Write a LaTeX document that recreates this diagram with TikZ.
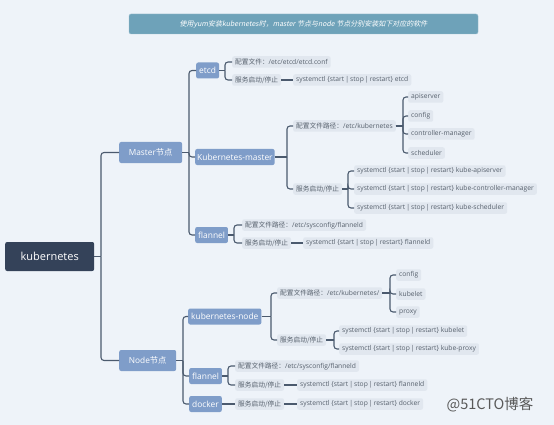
\documentclass[tikz,border=0pt]{standalone}
\usepackage{fontspec}
\setmainfont{Open Sans}
\newfontfamily\zh{Noto Sans CJK SC}
\newfontfamily\zhit[FakeSlant=0.2]{Noto Sans CJK SC}
\definecolor{bgc}{HTML}{EEF3F9}
\definecolor{rootc}{HTML}{344259}
\definecolor{midc}{HTML}{7F9DC9}
\definecolor{leafc}{HTML}{E1E7EF}
\definecolor{linec}{HTML}{4B5A6E}
\definecolor{leaft}{HTML}{57616D}
\definecolor{titlec}{HTML}{6EA2B9}
\newcommand\br[3]{\draw[link] (#1.east) -- (#3 |- #1.east); \draw[link,rounded corners=3pt] (#3 |- #1.east) |- (#2.west);}
\newcommand\st[2]{\draw[link] (#1.east) -- (#1.east -| #2.west);}
\newcommand\cmd[1]{systemctl \{start\,|\,stop\,|\,restart\} #1}
\begin{document}
\begin{tikzpicture}[x=1pt,y=-1pt,
  link/.style={draw=linec,line width=1.1pt},
  rootbox/.style={fill=rootc,text=white,rounded corners=2pt,font=\fontsize{11}{12}\selectfont,minimum width=89pt,minimum height=29pt,inner sep=2pt,anchor=west},
  mainbox/.style={fill=midc,text=white,rounded corners=2pt,font=\fontsize{8.3}{9}\selectfont,minimum height=21pt,inner xsep=5pt,anchor=west},
  subbox/.style={fill=midc,text=white,rounded corners=2pt,font=\fontsize{8.4}{9}\selectfont,minimum height=16pt,inner xsep=3pt,inner ysep=1pt,anchor=west},
  leaf/.style={fill=leafc,text=leaft,rounded corners=2pt,font=\fontsize{6.7}{7.5}\selectfont,minimum height=11.5pt,inner xsep=3pt,inner ysep=1pt,anchor=west}]
\useasboundingbox[fill=bgc] (0,0) rectangle (554,425);
% title
\node[fill=titlec,draw=titlec!70!white,rounded corners=2pt,minimum width=349pt,minimum height=20pt,text=white,font=\zhit\fontsize{7}{8}\selectfont] (title) at (303.5,24) {使用yum安装kubernetes时，master 节点与node 节点分别安装如下对应的软件};
% trunks
\coordinate (tR) at (101,0);
\coordinate (tM) at (189,0);
\coordinate (tN) at (183,0);
\coordinate (tE) at (225,0);
\coordinate (tK) at (287,0);
\coordinate (tKc) at (403,0);
\coordinate (tKs) at (348,0);
\coordinate (tF) at (234,0);
\coordinate (tKN) at (271,0);
\coordinate (tKNc) at (390,0);
\coordinate (tKNs) at (334,0);
\coordinate (tFN) at (228,0);
% nodes
\node[rootbox] (root) at (5,256.5) {kubernetes};
\node[mainbox,minimum width=63pt] (master) at (119,152.5) {Master{\zh 节点}};
\node[mainbox,minimum width=57pt] (nodeN) at (119,360.5) {Node{\zh 节点}};
\node[subbox] (etcd) at (196,70.5) {etcd};
\node[subbox,inner xsep=2pt] (kmaster) at (195,157) {Kubernetes-master};
\node[subbox] (flannelM) at (195,235) {flannel};
\node[subbox] (kn) at (188,316.5) {kubernetes-node};
\node[subbox] (flannelN) at (189,376) {flannel};
\node[subbox] (docker) at (189,404) {docker};
% etcd
\node[leaf] (ecfg) at (232,62) {{\zh 配置文件：}/etc/etcd/etcd.conf};
\node[leaf] (esvc) at (232,80) {{\zh 服务启动/停止}};
\node[leaf] (ecmd) at (293,80) {\cmd{etcd}};
% kubernetes-master
\node[leaf] (kcfg) at (293,126) {{\zh 配置文件路径：}/etc/kubernetes};
\node[leaf] (ksvc) at (293,189) {{\zh 服务启动/停止}};
\node[leaf] (kc1) at (408,97) {apiserver};
\node[leaf] (kc2) at (408,116) {config};
\node[leaf] (kc3) at (408,134) {controller-manager};
\node[leaf] (kc4) at (408,153) {scheduler};
\node[leaf] (ks1) at (354,171) {\cmd{kube-apiserver}};
\node[leaf] (ks2) at (354,189) {\cmd{kube-controller-manager}};
\node[leaf] (ks3) at (354,208) {\cmd{kube-scheduler}};
% flannel master
\node[leaf] (fcfg) at (242,225) {{\zh 配置文件路径：}/etc/sysconfig/flanneld};
\node[leaf] (fsvc) at (242,243) {{\zh 服务启动/停止}};
\node[leaf] (fcmd) at (303,243) {\cmd{flanneld}};
% kubernetes-node
\node[leaf] (ncfg) at (277,293) {{\zh 配置文件路径：}/etc/kubernetes/};
\node[leaf] (nsvc) at (277,340) {{\zh 服务启动/停止}};
\node[leaf] (nc1) at (396,275) {config};
\node[leaf] (nc2) at (396,294) {kubelet};
\node[leaf] (nc3) at (396,312) {proxy};
\node[leaf] (ns1) at (339,331) {\cmd{kubelet}};
\node[leaf] (ns2) at (339,349) {\cmd{kube-proxy}};
% flannel node
\node[leaf] (gcfg) at (235,366) {{\zh 配置文件路径：}/etc/sysconfig/flanneld};
\node[leaf] (gsvc) at (235,385) {{\zh 服务启动/停止}};
\node[leaf] (gcmd) at (297,385) {\cmd{flanneld}};
% docker
\node[leaf] (dsvc) at (235,404) {{\zh 服务启动/停止}};
\node[leaf] (dcmd) at (297,404) {\cmd{docker}};
% watermark
\node[text=black!65,font=\zh\fontsize{14.5}{16}\selectfont] (wm) at (490,405) {@51CTO博客};
% connectors
\br{root}{master}{tR}
\br{root}{nodeN}{tR}
\br{master}{etcd}{tM}
\br{master}{kmaster}{tM}
\br{master}{flannelM}{tM}
\br{etcd}{ecfg}{tE}
\br{etcd}{esvc}{tE}
\st{esvc}{ecmd}
\br{kmaster}{kcfg}{tK}
\br{kmaster}{ksvc}{tK}
\br{kcfg}{kc1}{tKc}
\br{kcfg}{kc2}{tKc}
\br{kcfg}{kc3}{tKc}
\br{kcfg}{kc4}{tKc}
\br{ksvc}{ks1}{tKs}
\br{ksvc}{ks2}{tKs}
\br{ksvc}{ks3}{tKs}
\br{flannelM}{fcfg}{tF}
\br{flannelM}{fsvc}{tF}
\st{fsvc}{fcmd}
\br{nodeN}{kn}{tN}
\br{nodeN}{flannelN}{tN}
\br{nodeN}{docker}{tN}
\br{kn}{ncfg}{tKN}
\br{kn}{nsvc}{tKN}
\br{ncfg}{nc1}{tKNc}
\br{ncfg}{nc2}{tKNc}
\br{ncfg}{nc3}{tKNc}
\br{nsvc}{ns1}{tKNs}
\br{nsvc}{ns2}{tKNs}
\br{flannelN}{gcfg}{tFN}
\br{flannelN}{gsvc}{tFN}
\st{gsvc}{gcmd}
\st{dsvc}{dcmd}
\st{docker}{dsvc}
\end{tikzpicture}
\end{document}
